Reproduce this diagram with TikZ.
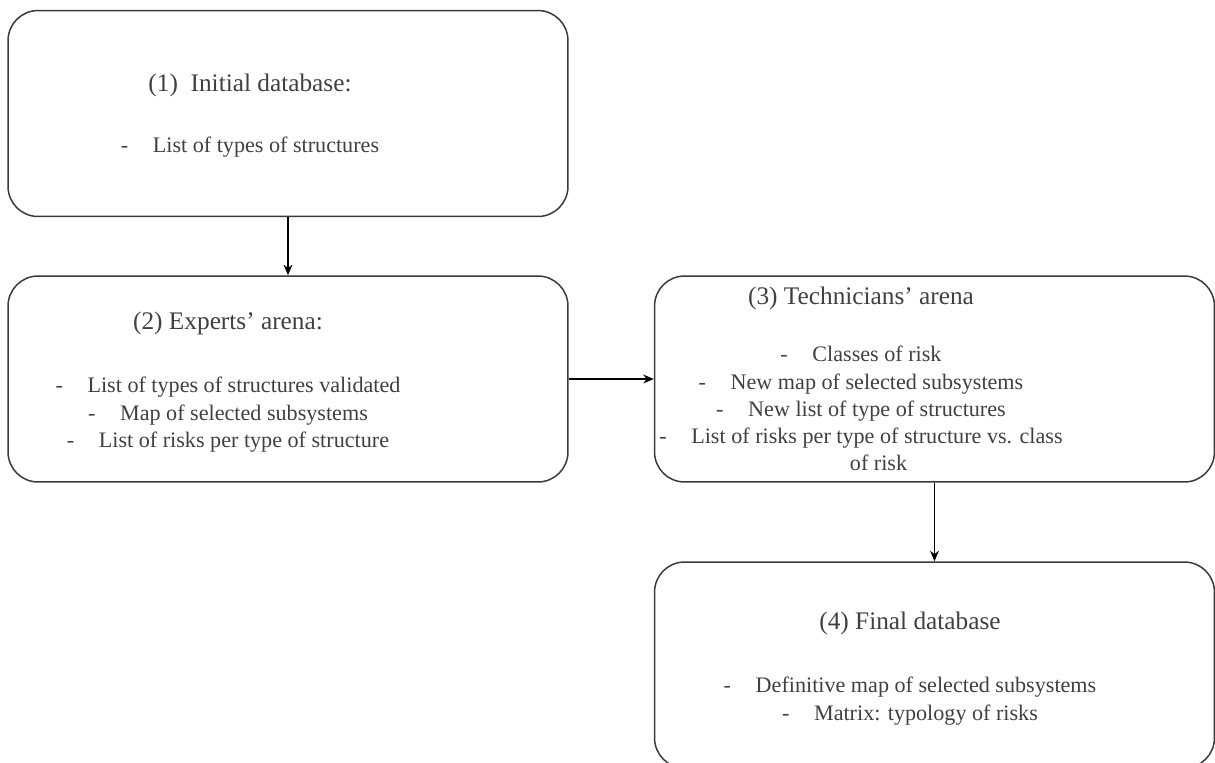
\documentclass[tikz,border=0pt]{standalone}
\usepackage{fontspec}
\setmainfont{Liberation Serif}
\usepackage{xcolor}
\usetikzlibrary{arrows.meta,positioning}

\definecolor{boxline}{HTML}{3A3A3A}
\definecolor{boxtext}{HTML}{404040}

\newcommand{\dashitem}[1]{-\hspace{14pt}#1}

\begin{document}
\begin{tikzpicture}[
    x=0.02cm, y=-0.02cm,
    stage/.style ={draw=boxline, line width=0.85pt, rounded corners=0.6cm,
                   minimum width=11.2cm, minimum height=4.12cm, inner sep=0pt},
    title/.style ={text=boxtext, font=\fontsize{14.4}{17}\selectfont},
    items/.style ={text=boxtext, align=center, font=\fontsize{12.6}{15.5}\selectfont},
    flow/.style  ={-{Stealth[length=6pt,width=5pt]}, line width=1pt, black},
  ]
  \useasboundingbox (0,0) rectangle (1215,762);

  % boxes
  \node[stage] (initial) at (288,113.5) {};
  \node[stage] (experts) at (288,379)   {};
  \node[stage] (techs)   at (934.5,379) {};
  \node[stage] (final)   at (934.5,665) {};

  % (1) initial database
  \node[title] (initialT) at (250,85)  {(1)\ \ Initial database:};
  \node[items] (initialL) at (250,147) {\dashitem{List of types of structures}};

  % (2) experts' arena
  \node[title] (expertsT) at (228,323) {(2) Experts’ arena:};
  \node[items,anchor=north] (expertsL) at (228,371) {%
    \dashitem{List of types of structures validated}\\
    \dashitem{Map of selected subsystems}\\
    \dashitem{List of risks per type of structure}};

  % (3) technicians' arena
  \node[title] (techsT) at (861,298) {(3) Technicians’ arena};
  \node[items,anchor=north] (techsL) at (861,340) {%
    \dashitem{Classes of risk}\\
    \dashitem{New map of selected subsystems}\\
    \dashitem{New list of type of structures}\\
    \dashitem{List of risks per type of structure vs. class}\\
    \hspace*{20pt}of risk};

  % (4) final database
  \node[title] (finalT) at (910,623) {(4) Final database};
  \node[items,anchor=north] (finalL) at (910,671) {%
    \dashitem{Definitive map of selected subsystems}\\
    \dashitem{Matrix: typology of risks}};

  % connectors
  \draw[flow] (initial.south) -- (experts.north);
  \draw[flow] (experts.east)  -- (techs.west);
  \draw[flow] (techs.south)   -- (final.north);
\end{tikzpicture}
\end{document}
